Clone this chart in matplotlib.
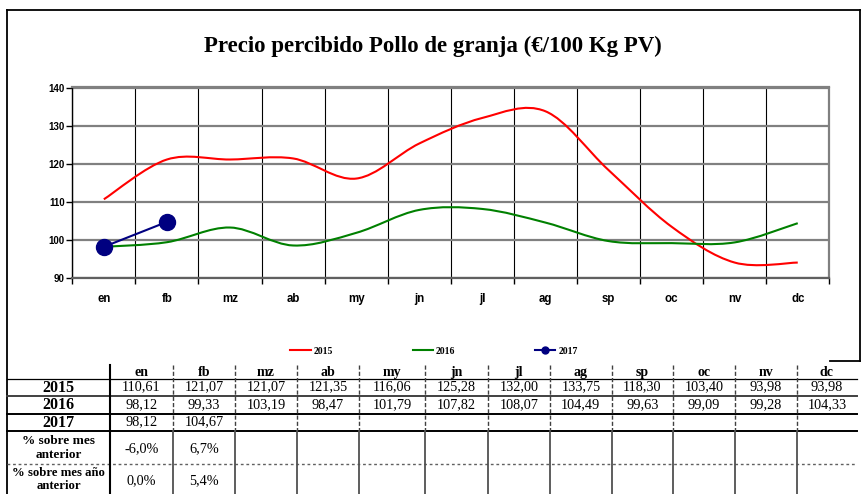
import numpy as np
import matplotlib
matplotlib.use("Agg")
import matplotlib.pyplot as plt
from matplotlib.path import Path
from matplotlib.patches import PathPatch
from matplotlib.lines import Line2D

# Precio percibido (€/100 kg PV)
meses = ["en", "fb", "mz", "ab", "my", "jn", "jl", "ag", "sp", "oc", "nv", "dc"]
precio_2015 = [110.61, 121.07, 121.07, 121.35, 116.06, 125.28, 132.00, 133.75, 118.30, 103.40, 93.98, 93.98]
precio_2016 = [98.12, 99.33, 103.19, 98.47, 101.79, 107.82, 108.07, 104.49, 99.63, 99.09, 99.28, 104.33]
precio_2017 = [98.12, 104.67]

W, H = 861, 494
SANS = "Liberation Sans"
SERIF = "Liberation Serif"


def curva_suave(x, y):
    # curva tipo "suavizada" de Excel: Bezier cubica por segmentos
    pts = np.column_stack([x, y]).astype(float)
    n = len(pts)
    verts = [pts[0]]
    codes = [Path.MOVETO]
    for i in range(n - 1):
        p0 = pts[max(i - 1, 0)]
        p1 = pts[i]
        p2 = pts[i + 1]
        p3 = pts[min(i + 2, n - 1)]
        verts += [p1 + (p2 - p0) / 6, p2 - (p3 - p1) / 6, p2]
        codes += [Path.CURVE4] * 3
    return Path(verts, codes)


def fmt(v):
    return f"{v:.2f}".replace(".", ",")


def pct(v):
    return f"{v * 100:.1f}%".replace(".", ",")


fig = plt.figure(figsize=(W / 100, H / 100), dpi=100)

# capa de fondo en pixeles para marco y tabla
bg = fig.add_axes([0, 0, 1, 1], zorder=0)
bg.set_xlim(0, W)
bg.set_ylim(H, 0)
bg.axis("off")

# marco del grafico
bg.plot([7, 860], [10, 10], color="black", lw=1.3)
bg.plot([860, 860], [10, 361], color="black", lw=1.3)
bg.plot([830, 860], [361, 361], color="black", lw=1.3)
bg.plot([7, 7], [10, H], color="black", lw=1.3)

bg.text(433, 46, "Precio percibido Pollo de granja (€/100 Kg PV)", ha="center", va="center",
        fontsize=16.5, fontweight="bold", family=SERIF)

# area de trazado
x0, x1, ytop, ybot = 72.3, 829.3, 87.5, 277.7
ax = fig.add_axes([x0 / W, 1 - ybot / H, (x1 - x0) / W, (ybot - ytop) / H], zorder=2)
ax.set_facecolor("none")
x = np.arange(len(meses))
ax.set_xlim(-0.5, len(meses) - 0.5)
ax.set_ylim(90, 140)
ax.set_yticks([90, 100, 110, 120, 130, 140])
ax.set_xticks(x)
ax.set_xticklabels(meses)
ax.set_xticks(np.arange(-0.5, len(meses)), minor=True)
ax.tick_params(axis="x", which="major", length=0, pad=11, labelsize=8.3)
ax.tick_params(axis="x", which="minor", length=4, width=1, color="black", direction="out")
ax.tick_params(axis="y", length=4, width=1, color="black", direction="out", pad=1.5, labelsize=7)
for lab in ax.get_xticklabels() + ax.get_yticklabels():
    lab.set_fontweight("bold")
    lab.set_family(SANS)
ax.grid(axis="y", color="#808080", lw=1.6)
ax.grid(axis="x", which="minor", color="black", lw=0.8)
ax.set_axisbelow(True)
for s in ["top", "right"]:
    ax.spines[s].set_color("#808080")
    ax.spines[s].set_linewidth(1.6)
ax.spines["bottom"].set_color("#606060")
ax.spines["bottom"].set_linewidth(1.6)
ax.spines["left"].set_color("black")
ax.spines["left"].set_linewidth(1.0)

ax.add_patch(PathPatch(curva_suave(x, precio_2015), fill=False, edgecolor="#ff0000", lw=1.5, zorder=3))
ax.add_patch(PathPatch(curva_suave(x, precio_2016), fill=False, edgecolor="#008000", lw=1.5, zorder=3))
ax.plot(x[:len(precio_2017)], precio_2017, color="#000080", lw=1.5, marker="o", ms=11.5, zorder=4)

handles = [Line2D([], [], color="#ff0000", lw=1.5),
           Line2D([], [], color="#008000", lw=1.5),
           Line2D([], [], color="#000080", lw=1.5, marker="o", ms=5)]
fig.legend(handles, ["2015", "2016", "2017"], loc="center", bbox_to_anchor=(434 / W, 1 - 351 / H),
           ncol=3, frameon=False, handlelength=2.1, handletextpad=0.3, columnspacing=8.2,
           prop={"family": SERIF, "weight": "bold", "size": 7})

# tabla de datos
cols = [110, 172.7, 235.3, 296.7, 359, 425, 487.7, 550, 611.7, 673.3, 735, 796.7, 857]
cx = [(a + b) / 2 for a, b in zip(cols[:-1], cols[1:])]
lab_x = (7 + 110) / 2

for i, m in enumerate(meses):
    bg.text(cx[i], 372, m, ha="center", va="center", fontsize=10, fontweight="bold", family=SERIF)

filas = [("2015", precio_2015, 387), ("2016", precio_2016, 404.5), ("2017", precio_2017, 422)]
for nombre, vals, yc in filas:
    bg.text(lab_x, yc + 0.5, nombre, ha="center", va="center", fontsize=11.5, fontweight="bold", family=SERIF)
    for i, v in enumerate(vals):
        bg.text(cx[i], yc, fmt(v), ha="center", va="center", fontsize=10.3, family=SERIF)

var_mes = [precio_2017[0] / precio_2016[-1] - 1] + \
    [precio_2017[i] / precio_2017[i - 1] - 1 for i in range(1, len(precio_2017))]
var_anual = [precio_2017[i] / precio_2016[i] - 1 for i in range(len(precio_2017))]

bg.text(lab_x, 448, "% sobre mes\nanterior", ha="center", va="center", fontsize=9.5,
        fontweight="bold", family=SERIF, linespacing=1.2)
bg.text(lab_x, 479.5, "% sobre mes año\nanterior", ha="center", va="center", fontsize=9.2,
        fontweight="bold", family=SERIF, linespacing=1.05)
for i in range(len(precio_2017)):
    bg.text(cx[i], 449, pct(var_mes[i]), ha="center", va="center", fontsize=10.3, family=SERIF)
    bg.text(cx[i], 481, pct(var_anual[i]), ha="center", va="center", fontsize=10.3, family=SERIF)

# bordes de celdas
bg.plot([7, 857], [378.5, 378.5], color="black", lw=0.9)
bg.plot([7, 857], [396, 396], color="#404040", lw=1.4)
bg.plot([7, 857], [413.5, 413.5], color="black", lw=1.4)
bg.plot([7, 857], [431, 431], color="black", lw=1.4)
bg.plot([7, 857], [463.5, 463.5], color="#606060", lw=1.0, ls=(0, (2, 2)))
bg.plot([110, 110], [365, H], color="black", lw=1.5)
for c in cols[1:-1]:
    bg.plot([c, c], [365, 431], color="#404040", lw=1.0, ls=(0, (3, 1.5)))
    bg.plot([c, c], [431, H], color="#505050", lw=1.3)

fig.savefig("out.png", dpi=100)
